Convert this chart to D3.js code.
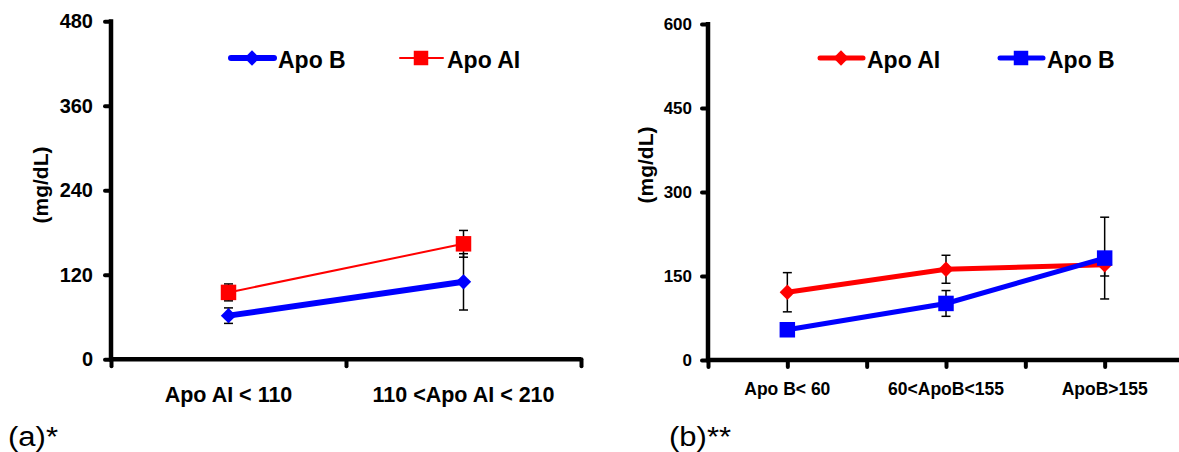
<!DOCTYPE html>
<html>
<head>
<meta charset="utf-8">
<script src="https://cdn.jsdelivr.net/npm/d3@7"></script>
<style>
  body { margin: 0; background: #ffffff; }
  svg { display: block; font-family: Arial, "Liberation Sans", sans-serif; }
</style>
</head>
<body>
<div id="graph"></div>
<script>
// ---- data, panel (a)
var catsA     = [ 'Apo AI < 110', '110 <Apo AI < 210' ];
var apoBA     = [ 62, 110 ];
var apoBErrA  = [ 11, 40 ];
var apoAIA    = [ 95, 164 ];
var apoAIErrA = [ 12, 19 ];
var ticksA    = [ 0, 120, 240, 360, 480 ];

// ---- data, panel (b)
var catsB     = [ 'Apo B< 60', '60<ApoB<155', 'ApoB>155' ];
var apoAIB    = [ 121, 162, 170 ];
var apoAIErrB = [ 35, 25, 20 ];
var apoBB     = [ 54, 101, 182 ];
var apoBErrB  = [ 4, 23, 73 ];
var ticksB    = [ 0, 150, 300, 450, 600 ];

var RED  = '#ff0000';
var BLUE = '#0000ff';

var svg = d3.select ('#graph').append ('svg')
            .attr ('width', 1179)
            .attr ('height', 452);

var diamond = d3.symbol ().type (d3.symbolDiamond2);
var square  = d3.symbol ().type (d3.symbolSquare);

//
// draw one panel
//
function DrawPanel (p)
{
    var g = svg.append ('g');

    var yScale = d3.scaleLinear ()
                   .domain ([ 0, p.yTicks[p.yTicks.length - 1] ])
                   .range ([ p.y0, p.y1 ]);

    // x scale: one unit per category, ticks at edges (and centres in panel b)
    var xScale = d3.scaleLinear ()
                   .domain ([ 0, p.nBands ])
                   .range ([ p.x0, p.x1 ]);

    // y axis
    var yAxis = d3.axisLeft (yScale)
                  .tickValues (p.yTicks)
                  .tickSize (6)
                  .tickPadding (p.yPad)
                  .tickFormat (d3.format ('d'));

    var ya = g.append ('g')
              .attr ('transform', 'translate(' + p.x0 + ',0)')
              .call (yAxis);
    ya.select ('.domain').remove ();
    ya.selectAll ('.tick line').attr ('stroke', '#000').attr ('stroke-width', 4).attr ('stroke-linecap', 'round');
    ya.selectAll ('text')
      .attr ('font-size', p.yFont + 'px')
      .attr ('font-weight', 'bold')
      .attr ('font-family', 'Arial, "Liberation Sans", sans-serif')
      .attr ('fill', '#000');

    g.append ('line')
     .attr ('x1', p.x0).attr ('x2', p.x0)
     .attr ('y1', yScale (p.yTicks[p.yTicks.length - 1]) - 2)
     .attr ('y2', p.y0)
     .attr ('stroke', '#000')
     .attr ('stroke-width', 4.5);

    // x axis
    var xAxis = d3.axisBottom (xScale)
                  .tickValues (p.xTicks)
                  .tickSize (7)
                  .tickFormat ('');

    var xa = g.append ('g')
              .attr ('transform', 'translate(0,' + p.y0 + ')')
              .call (xAxis);
    xa.select ('.domain').remove ();
    xa.selectAll ('.tick line').attr ('stroke', '#000').attr ('stroke-width', 4).attr ('stroke-linecap', 'round');

    g.append ('line')
     .attr ('x1', p.x0 - 2).attr ('x2', p.x1)
     .attr ('y1', p.y0).attr ('y2', p.y0)
     .attr ('stroke', '#000')
     .attr ('stroke-width', 4.5);

    // category labels
    for (var i = 0; i < p.cats.length; i++)
    {
        g.append ('text')
         .attr ('x', xScale (i + 0.5))
         .attr ('y', p.catY)
         .attr ('text-anchor', 'middle')
         .attr ('font-size', p.catFont + 'px')
         .attr ('font-weight', 'bold')
         .text (p.cats[i]);
    }

    // y title
    g.append ('text')
     .attr ('transform', 'translate(' + p.titleX + ',' + p.titleY + ') rotate(-90)')
     .attr ('text-anchor', 'middle')
     .attr ('font-size', '21px')
     .attr ('font-weight', 'bold')
     .text ('(mg/dL)');

    // series
    var line = d3.line ()
                 .x (function (d, i) { return xScale (i + 0.5); })
                 .y (function (d) { return yScale (d); });

    p.series.forEach (function (s)
    {
        // error bars
        for (var i = 0; i < s.values.length; i++)
        {
            var cx = xScale (i + 0.5);
            var hi = yScale (s.values[i] + s.err[i]);
            var lo = yScale (s.values[i] - s.err[i]);
            g.append ('line')
             .attr ('x1', cx).attr ('x2', cx)
             .attr ('y1', hi).attr ('y2', lo)
             .attr ('stroke', '#000').attr ('stroke-width', 1.5);
            [ hi, lo ].forEach (function (yy)
            {
                g.append ('line')
                 .attr ('x1', cx - 4.5).attr ('x2', cx + 4.5)
                 .attr ('y1', yy).attr ('y2', yy)
                 .attr ('stroke', '#000').attr ('stroke-width', 1.5);
            });
        }
    });

    p.series.forEach (function (s)
    {
        g.append ('path')
         .datum (s.values)
         .attr ('d', line)
         .attr ('fill', 'none')
         .attr ('stroke', s.colour)
         .attr ('stroke-width', s.width);

        g.selectAll (null)
         .data (s.values)
         .enter ()
         .append ('path')
         .attr ('d', s.shape == 'diamond' ? diamond.size (150) () : square.size (240) ())
         .attr ('transform', function (d, i) { return 'translate(' + xScale (i + 0.5) + ',' + yScale (d) + ')'; })
         .attr ('fill', s.colour);
    });

    // legend
    p.series.forEach (function (s, k)
    {
        var lx = p.legX[k];
        g.append ('line')
         .attr ('x1', lx).attr ('x2', lx + 43)
         .attr ('y1', p.legY).attr ('y2', p.legY)
         .attr ('stroke', s.colour)
         .attr ('stroke-width', s.width)
         .attr ('stroke-linecap', 'round');
        g.append ('path')
         .attr ('d', s.shape == 'diamond' ? diamond.size (150) () : square.size (210) ())
         .attr ('transform', 'translate(' + (lx + 21) + ',' + p.legY + ')')
         .attr ('fill', s.colour);
        g.append ('text')
         .attr ('x', lx + 47)
         .attr ('y', p.legY + 10)
         .attr ('font-size', '23px')
         .attr ('font-weight', 'bold')
         .text (s.name);
    });

    // panel tag
    g.append ('text')
     .attr ('x', p.tagX)
     .attr ('y', 446)
     .attr ('font-size', '27px')
     .attr ('textLength', p.tagLen)
     .attr ('lengthAdjust', 'spacingAndGlyphs')
     .text (p.tag);
}

DrawPanel ({
    cats: catsA, nBands: 2, xTicks: [ 0, 1, 2 ],
    x0: 111, x1: 581, y0: 359.3, y1: 21.3,
    yTicks: ticksA, yFont: 20, yPad: 12, catFont: 21.5, catY: 402,
    titleX: 48, titleY: 185,
    legX: [ 231, 400 ], legY: 58,
    tag: '(a)*', tagX: 8, tagLen: 50,
    series: [
        { name: 'Apo B',  values: apoBA,  err: apoBErrA,  colour: BLUE, width: 6, shape: 'diamond' },
        { name: 'Apo AI', values: apoAIA, err: apoAIErrA, colour: RED,  width: 2, shape: 'square' }
    ]
});

DrawPanel ({
    cats: catsB, nBands: 3, xTicks: [ 0, 0.5, 1, 1.5, 2, 2.5, 3 ],
    x0: 708, x1: 1184, y0: 360, y1: 24,
    yTicks: ticksB, yFont: 17, yPad: 10, catFont: 17.5, catY: 395,
    titleX: 653, titleY: 165,
    legX: [ 820, 1000 ], legY: 58,
    tag: '(b)**', tagX: 669, tagLen: 62,
    series: [
        { name: 'Apo AI', values: apoAIB, err: apoAIErrB, colour: RED,  width: 5, shape: 'diamond' },
        { name: 'Apo B',  values: apoBB,  err: apoBErrB,  colour: BLUE, width: 5, shape: 'square' }
    ]
});
</script>
</body>
</html>
